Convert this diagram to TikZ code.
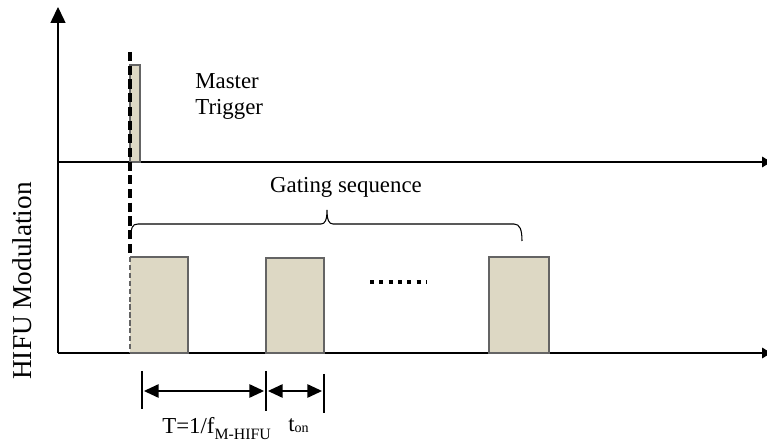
\documentclass[tikz,border=0pt]{standalone}
\usepackage{fontspec}
\setmainfont{Liberation Serif}
\usetikzlibrary{arrows.meta}

\definecolor{pulsefill}{RGB}{221,216,196}
\definecolor{pulseline}{RGB}{100,100,100}

\tikzset{
  pulse/.style={draw=pulseline,line width=1.5pt,fill=pulsefill},
  axis/.style={line width=0.6pt,-{Triangle[length=5pt,width=6pt]}},
  dimline/.style={line width=1.6pt,shorten <=1pt,shorten >=1pt,
    {Triangle[length=8.5pt,width=7.4pt]}-{Triangle[length=8.5pt,width=7.4pt]}},
  dimtick/.style={line width=1.7pt},
  lbl/.style={inner sep=0pt,font=\fontsize{13}{15}\selectfont},
}

\begin{document}
\begin{tikzpicture}[x=0.02cm,y=-0.02cm]
  \useasboundingbox (0,0) rectangle (767,445);
  \coordinate (origin) at (58,353);
  \coordinate (ytop) at (58,7);
  \coordinate (trigbase) at (58,162);
  \coordinate (trigend) at (771,162);
  \coordinate (xend) at (771,353);
    \draw[line width=0.6pt,-{Triangle[length=9pt,width=8.5pt]}] (origin) -- (ytop);
    \draw[axis] (trigbase) -- (trigend);
    \draw[axis] (origin) -- (xend);
    % trigger pulse
    \draw[pulse,line width=1.1pt] (130,65) rectangle (140,162);
    \draw[line width=2pt,dash pattern=on 5.2pt off 2.6pt] (130,52) -- (130,257);
    % gating pulses
    \fill[pulsefill] (130,257) rectangle (188,353);
    \draw[pulseline,line width=1.5pt] (130,257) -- (188,257) -- (188,353) -- (130,353);
    \draw[pulseline,line width=0.7pt,dash pattern=on 3pt off 1.5pt] (130,257) -- (130,353);
    \draw[pulse] (266,258) rectangle (324,353);
    \draw[pulse] (489,257) rectangle (549,353);
    \draw[line width=2.3pt,dash pattern=on 2.3pt off 3pt] (370,282) -- (427,282);
    % brace
    \draw[line width=0.6pt] (131,238) .. controls (131,228) and (132,224) .. (138,224)
      -- (321,224) .. controls (325,224) and (327,220) .. (327,210)
      .. controls (327,220) and (329,224) .. (333,224)
      -- (514,224) .. controls (520,224) and (522,230) .. (522,241);
    \node[lbl,anchor=base] (gate) at (346,193) {Gating sequence};
    \node[lbl,anchor=base west,align=left] (trig) at (195,115) {Master\\Trigger};
    \node[lbl,font=\fontsize{15.5}{17}\selectfont,rotate=90] (ylabel) at (22,281) {HIFU Modulation};
    % period and on-time
  \coordinate (tA) at (142,391);
  \coordinate (tB) at (266,391);
  \coordinate (tC) at (324,391);
    \draw[dimtick] (142,371) -- (142,409);
    \draw[dimtick] (266,371) -- (266,411);
    \draw[dimtick] (324,374) -- (324,413);
    \draw[dimline] (tA) -- (tB);
    \draw[dimline] (tB) -- (tC);
    \node[lbl,anchor=base west] (period) at (162,434)
      {T=1/f\raisebox{-3.4pt}{\fontsize{9}{10}\selectfont M-HIFU}};
    \node[lbl,anchor=base west] (ton) at (288,432)
      {t\raisebox{-0.5pt}{\fontsize{8}{9}\selectfont on}};
\end{tikzpicture}
\end{document}
